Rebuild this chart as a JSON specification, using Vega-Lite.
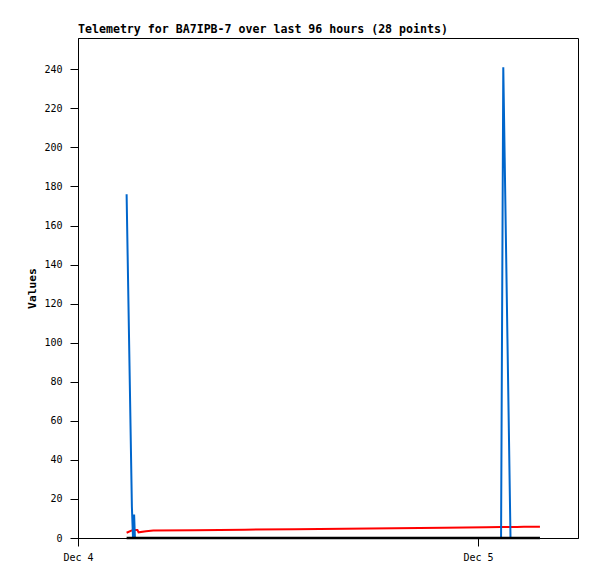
{
  "$schema": "https://vega.github.io/schema/vega-lite/v6.json",
  "autosize": "none",
  "width": 500,
  "height": 500,
  "padding": {"left": 78, "top": 38, "right": 19, "bottom": 41},
  "background": "white",
  "config": {
    "view": {"stroke": "black", "strokeWidth": 1},
    "axis": {
      "domainColor": "black", "tickColor": "black", "labelColor": "black", "titleColor": "black",
      "labelFont": "DejaVu Sans Mono", "labelFontSize": 10, "titleFont": "DejaVu Sans Mono",
      "titleFontSize": 11.3, "titleFontWeight": "bold", "grid": false, "tickSize": 8, "labelPadding": 4
    }
  },
  "title": {
    "text": "Telemetry for BA7IPB-7 over last 96 hours (28 points)",
    "anchor": "start", "frame": "group", "font": "DejaVu Sans Mono", "fontSize": 11.6, "fontWeight": "bold",
    "color": "black", "offset": 2
  },
  "data": {
    "values": [
      {"time": "2024-12-04T02:55:00", "A1": 2.7, "A2": 176, "A3": 0},
      {"time": "2024-12-04T03:14:00", "A1": 3.9, "A2": 16, "A3": 0},
      {"time": "2024-12-04T03:18:00", "A1": 4.0, "A2": 0, "A3": 0},
      {"time": "2024-12-04T03:22:00", "A1": 4.0, "A2": 12, "A3": 0},
      {"time": "2024-12-04T03:25:00", "A1": 4.1, "A2": 0, "A3": 0},
      {"time": "2024-12-04T03:34:00", "A1": 4.1, "A2": 0, "A3": 0},
      {"time": "2024-12-04T03:38:00", "A1": 2.9, "A2": 0, "A3": 0},
      {"time": "2024-12-04T04:05:00", "A1": 3.4, "A2": 0, "A3": 0},
      {"time": "2024-12-04T04:31:00", "A1": 3.8, "A2": 0, "A3": 0},
      {"time": "2024-12-04T07:00:00", "A1": 4.01, "A2": 0, "A3": 0},
      {"time": "2024-12-04T10:00:00", "A1": 4.27, "A2": 0, "A3": 0},
      {"time": "2024-12-04T13:00:00", "A1": 4.53, "A2": 0, "A3": 0},
      {"time": "2024-12-04T16:00:00", "A1": 4.79, "A2": 0, "A3": 0},
      {"time": "2024-12-04T19:00:00", "A1": 5.05, "A2": 0, "A3": 0},
      {"time": "2024-12-04T22:00:00", "A1": 5.31, "A2": 0, "A3": 0},
      {"time": "2024-12-05T00:30:00", "A1": 5.52, "A2": 0, "A3": 0},
      {"time": "2024-12-05T01:23:00", "A1": 5.6, "A2": 0, "A3": 0},
      {"time": "2024-12-05T01:31:00", "A1": 5.61, "A2": 241, "A3": 0},
      {"time": "2024-12-05T01:36:00", "A1": 5.62, "A2": 195, "A3": 0},
      {"time": "2024-12-05T01:41:00", "A1": 5.62, "A2": 148, "A3": 0},
      {"time": "2024-12-05T01:46:00", "A1": 5.63, "A2": 102, "A3": 0},
      {"time": "2024-12-05T01:51:00", "A1": 5.64, "A2": 56, "A3": 0},
      {"time": "2024-12-05T01:57:00", "A1": 5.65, "A2": 0, "A3": 0},
      {"time": "2024-12-05T02:20:00", "A1": 5.68, "A2": 0, "A3": 0},
      {"time": "2024-12-05T02:45:00", "A1": 5.72, "A2": 0, "A3": 0},
      {"time": "2024-12-05T03:05:00", "A1": 5.75, "A2": 0, "A3": 0},
      {"time": "2024-12-05T03:25:00", "A1": 5.77, "A2": 0, "A3": 0},
      {"time": "2024-12-05T03:43:00", "A1": 5.8, "A2": 0, "A3": 0}
    ]
  },
  "encoding": {
    "x": {
      "field": "time", "type": "temporal",
      "scale": {"domain": [{"year": 2024, "month": 12, "date": 4, "hours": 0}, {"year": 2024, "month": 12, "date": 5, "hours": 6}], "nice": false},
      "axis": {"title": null, "format": "%b %-d", "tickCount": {"interval": "day", "step": 1}, "labelPadding": 6, "labelFlush": false}
    }
  },
  "layer": [
    {
      "mark": {"type": "line", "color": "#ff0000", "strokeWidth": 2},
      "encoding": {
        "y": {
          "field": "A1", "type": "quantitative",
          "scale": {"domain": [0, 256], "nice": false, "zero": true},
          "axis": {"title": "Values", "values": [0, 20, 40, 60, 80, 100, 120, 140, 160, 180, 200, 220, 240], "labelPadding": 8, "titlePadding": 6}
        }
      }
    },
    {
      "mark": {"type": "line", "color": "#0066cc", "strokeWidth": 2},
      "encoding": {"y": {"field": "A2", "type": "quantitative"}}
    },
    {
      "mark": {"type": "line", "color": "#000000", "strokeWidth": 2.5},
      "encoding": {"y": {"field": "A3", "type": "quantitative"}}
    }
  ]
}
